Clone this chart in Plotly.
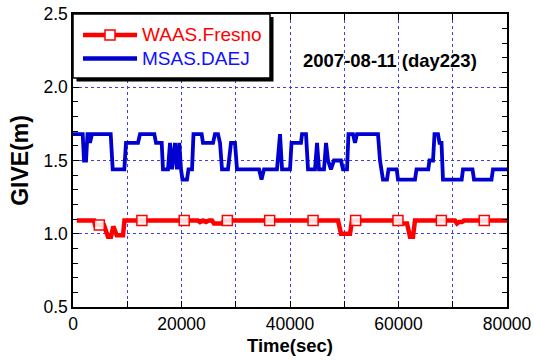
import plotly.graph_objects as go

# ---------------- data ----------------
blue_t = [0, 1790, 2030, 2400, 2670, 2950, 3130, 3500, 6950, 7320, 9460, 9770, 11980,
          12350, 14990, 15300, 16350, 16590, 17510, 17880, 18250, 18800, 19170, 19590,
          19910, 20180, 21010, 21290, 21940, 22210, 23720, 23960, 25810, 26170, 26730,
          27100, 27470, 28570, 29120, 29860, 30230, 34290, 34750, 35210, 37600, 38160,
          38530, 40000, 40280, 42030, 42210, 42950, 43320, 44610, 44980, 45350, 46270,
          46640, 47010, 47550, 48100, 49400, 49770, 50510, 50780, 51610, 51980, 52350,
          56220, 56590, 57140, 57880, 58160, 59670, 59910, 63040, 63320, 65490, 65710,
          66360, 66640, 67280, 67560, 67930, 68200, 71650, 71890, 73640, 73920, 77140,
          77420, 80000]
blue_v = [1.68, 1.68, 1.50, 1.50, 1.68, 1.68, 1.62, 1.68, 1.68, 1.44, 1.44, 1.62, 1.62,
          1.68, 1.68, 1.62, 1.62, 1.44, 1.44, 1.62, 1.44, 1.62, 1.44, 1.62,
          1.44, 1.37, 1.37, 1.44, 1.44, 1.68, 1.68, 1.62, 1.62, 1.68, 1.68,
          1.62, 1.44, 1.44, 1.62, 1.62, 1.44, 1.44, 1.37, 1.44, 1.44, 1.68,
          1.44, 1.44, 1.62, 1.62, 1.68, 1.68, 1.44, 1.44, 1.62, 1.44, 1.44,
          1.62, 1.50, 1.44, 1.50, 1.50, 1.44, 1.44, 1.68, 1.68, 1.62, 1.68,
          1.68, 1.50, 1.37, 1.37, 1.44, 1.44, 1.37, 1.37, 1.44, 1.44, 1.50,
          1.50, 1.68, 1.68, 1.62, 1.62, 1.37, 1.37, 1.44, 1.44, 1.37, 1.37,
          1.44, 1.44]

red_t = [700, 3870, 4050, 5710, 6450, 7000, 7430, 8060, 9220, 9490, 23040, 23410, 23960,
         24520, 25070, 25620, 25990, 27460, 27830, 48850, 49400, 51060, 51430, 60280,
         60460, 61570, 62120, 62670, 63040, 70410, 70780, 71150, 71700, 72070, 80000]
red_v = [1.09, 1.09, 1.06, 1.06, 0.98, 0.98, 1.05, 0.99, 0.99, 1.09, 1.09, 1.08, 1.09,
         1.08, 1.09, 1.09, 1.07, 1.07, 1.09, 1.09, 1.00, 1.00, 1.09, 1.09,
         1.07, 1.07, 0.98, 0.98, 1.09, 1.09, 1.07, 1.08, 1.08, 1.09, 1.09]

red_marker_t = [4850, 12700, 20500, 28450, 36250, 44250, 52100, 59900, 67900, 75800]
red_marker_v = [1.06, 1.09, 1.09, 1.09, 1.09, 1.09, 1.09, 1.09, 1.09, 1.09]

x_tickvals = [0, 10000, 20000, 30000, 40000, 50000, 60000, 70000, 80000]
x_ticktext = ["0", "", "20000", "", "40000", "", "60000", "", "80000"]

series_names = ["WAAS.Fresno", "MSAS.DAEJ"]
date_label = "2007-08-11 (day223)"

RED = "#ff0000"
BLUE = "#0000d0"
FONT = 'Arial, "Liberation Sans", sans-serif'

# plot area geometry (pixels) for the hand-drawn legend box
L, R, T, B = 73, 507, 14, 307.5
def px(xp):
    return (xp - L) / (R - L)
def py(yp):
    return (B - yp) / (B - T)

fig = go.Figure()
fig.add_trace(go.Scatter(x=red_t, y=red_v, mode="lines", line=dict(color=RED, width=4.5),
                         showlegend=False, name=series_names[0]))
fig.add_trace(go.Scatter(x=red_marker_t, y=red_marker_v, mode="markers",
                         marker=dict(symbol="square", size=10, color="rgba(255,255,255,0.85)",
                                     line=dict(color=RED, width=1.5)),
                         showlegend=False, name=series_names[0]))
fig.add_trace(go.Scatter(x=blue_t, y=blue_v, mode="lines", line=dict(color=BLUE, width=3.8),
                         showlegend=False, name=series_names[1]))

shapes = [
    # legend shadow and box
    dict(type="rect", xref="paper", yref="paper", x0=px(76.5), x1=px(273.5), y0=py(81.5), y1=py(17),
         fillcolor="black", line=dict(width=0)),
    dict(type="rect", xref="paper", yref="paper", x0=px(73), x1=px(270), y0=py(78), y1=py(14),
         fillcolor="white", line=dict(color="black", width=1.5)),
    dict(type="line", xref="paper", yref="paper", x0=px(83), x1=px(137), y0=py(35), y1=py(35),
         line=dict(color=RED, width=4.5)),
    dict(type="rect", xref="paper", yref="paper", x0=px(105), x1=px(115), y0=py(40), y1=py(30),
         fillcolor="white", line=dict(color=RED, width=1.5)),
    dict(type="line", xref="paper", yref="paper", x0=px(83), x1=px(137), y0=py(58.5), y1=py(58.5),
         line=dict(color=BLUE, width=4.5)),
]
annotations = [
    dict(text=series_names[0], xref="paper", yref="paper", x=px(140), y=py(35),
         xanchor="left", yanchor="middle", showarrow=False, font=dict(size=19, color=RED, family=FONT)),
    dict(text=series_names[1], xref="paper", yref="paper", x=px(140), y=py(58.5),
         xanchor="left", yanchor="middle", showarrow=False, font=dict(size=19, color="#1010ff", family=FONT)),
    dict(text="<b>" + date_label + "</b>", xref="paper", yref="paper", x=px(301), y=py(60.5),
         xanchor="left", yanchor="middle", showarrow=False, font=dict(size=18.5, color="black", family=FONT)),
]

GRID = "#4040e0"
fig.update_layout(
    width=534, height=361,
    margin=dict(l=L, r=534 - R, t=T, b=361 - B, autoexpand=False),
    paper_bgcolor="white", plot_bgcolor="white",
    font=dict(family=FONT, size=17, color="black"),
    shapes=shapes, annotations=annotations,
    showlegend=False,
)
fig.update_xaxes(
    automargin=False,
    range=[0, 80000], tickvals=x_tickvals, ticktext=x_ticktext,
    ticks="inside", ticklen=6, tickwidth=1, tickcolor="black",
    showline=True, linecolor="black", linewidth=1.5, mirror="ticks",
    showgrid=True, gridcolor=GRID, griddash="dot", gridwidth=1, zeroline=False,
    tickfont=dict(size=17.5), title=dict(text="<b>Time(sec)</b>", font=dict(size=18.5), standoff=6),
)
fig.update_yaxes(
    automargin=False,
    range=[0.5, 2.5], tick0=0.5, dtick=0.5, tickformat=".1f",
    ticks="inside", ticklen=6, tickwidth=1, tickcolor="black",
    minor=dict(dtick=0.1, ticks="inside", ticklen=5, tickcolor="black", showgrid=False),
    showline=True, linecolor="black", linewidth=1.5, mirror="ticks",
    showgrid=True, gridcolor=GRID, griddash="dot", gridwidth=1, zeroline=False,
    tickfont=dict(size=17.5), title=dict(text="<b>GIVE(m)</b>", font=dict(size=23), standoff=8),
)

fig.write_html("out.html")
